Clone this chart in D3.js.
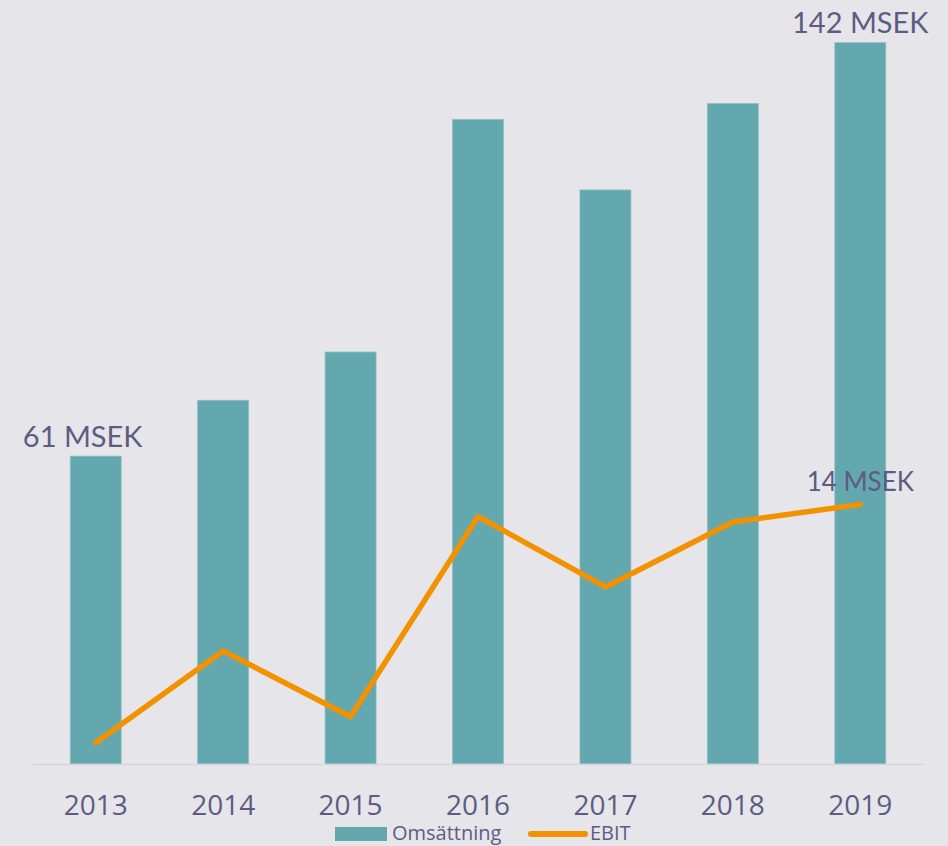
<!DOCTYPE html>
<html>
<head>
<meta charset="utf-8">
<script src="https://cdn.jsdelivr.net/npm/d3@7"></script>
<style>
  html, body { margin: 0; padding: 0; background: #e6e5ea; }
  svg { display: block; }
</style>
</head>
<body>
<div id="chart"></div>
<script>
// Data
const years = ["2013", "2014", "2015", "2016", "2017", "2018", "2019"];
const omsattning = [60.6, 71.6, 81.1, 126.9, 113, 130, 142];   // MSEK
const ebit = [1.15, 6.1, 2.55, 13.35, 9.55, 13.05, 14];         // MSEK
const seriesNames = ["Omsättning", "EBIT"];

const width = 948, height = 846;
const baseY = 764;
const textColor = "#5e5b83";

const svg = d3.select("#chart")
    .append("svg")
    .attr("width", width)
    .attr("height", height);

svg.append("rect")
    .attr("width", width)
    .attr("height", height)
    .attr("fill", "#e6e5ea");

// Scales
const x = d3.scaleBand()
    .domain(years)
    .range([32, 924])
    .paddingInner(0.6)
    .paddingOuter(0.3);

const y = d3.scaleLinear()
    .domain([0, 150])
    .range([baseY, 2]);

// secondary axis for EBIT
const y2 = d3.scaleLinear()
    .domain([0, 41.1])
    .range([baseY, 2]);

// Bars
svg.append("g")
    .selectAll("rect")
    .data(years)
    .join("rect")
    .attr("x", d => x(d))
    .attr("y", (d, i) => y(omsattning[i]))
    .attr("width", x.bandwidth())
    .attr("height", (d, i) => baseY - y(omsattning[i]))
    .attr("fill", "#63a8ae")
    .attr("stroke", "#8dc0c4")
    .attr("stroke-width", 0.8);

// Baseline / x axis
const xAxis = svg.append("g")
    .attr("transform", `translate(0,${baseY})`)
    .call(d3.axisBottom(x).tickSize(0).tickPadding(31));
xAxis.select(".domain")
    .attr("stroke", "#d6d5df")
    .attr("stroke-width", 1.5);
xAxis.selectAll("text")
    .attr("fill", textColor)
    .style("font-family", "'Open Sans', sans-serif")
    .style("font-size", "28px");

// EBIT line
const line = d3.line()
    .x((d, i) => x(years[i]) + x.bandwidth() / 2)
    .y(d => y2(d));

svg.append("path")
    .datum(ebit)
    .attr("d", line)
    .attr("fill", "none")
    .attr("stroke", "#f39200")
    .attr("stroke-width", 5.5)
    .attr("stroke-linejoin", "round")
    .attr("stroke-linecap", "round");

// Data labels
const last = years.length - 1;
const labelFont = "Lato, 'Open Sans', sans-serif";

svg.append("text")
    .attr("x", x(years[0]) + x.bandwidth() / 2 - 13)
    .attr("y", y(omsattning[0]) - 9)
    .attr("text-anchor", "middle")
    .attr("fill", textColor)
    .style("font-family", labelFont)
    .style("font-size", "29px")
    .text(Math.round(omsattning[0]) + " MSEK");

svg.append("text")
    .attr("x", x(years[last]) + x.bandwidth() / 2)
    .attr("y", y(omsattning[last]) - 10)
    .attr("text-anchor", "middle")
    .attr("fill", textColor)
    .style("font-family", labelFont)
    .style("font-size", "29px")
    .text(Math.round(omsattning[last]) + " MSEK");

svg.append("text")
    .attr("x", x(years[last]) + x.bandwidth() / 2)
    .attr("y", y2(ebit[last]) - 13)
    .attr("text-anchor", "middle")
    .attr("fill", textColor)
    .style("font-family", labelFont)
    .style("font-size", "26px")
    .text(Math.round(ebit[last]) + " MSEK");

// Legend
const legend = svg.append("g")
    .style("font-family", "'Open Sans', sans-serif")
    .style("font-size", "20px");

legend.append("rect")
    .attr("x", 335)
    .attr("y", 827)
    .attr("width", 52)
    .attr("height", 14)
    .attr("fill", "#63a8ae");
legend.append("text")
    .attr("x", 392)
    .attr("y", 840)
    .attr("fill", textColor)
    .text(seriesNames[0]);

legend.append("line")
    .attr("x1", 531)
    .attr("x2", 585)
    .attr("y1", 834)
    .attr("y2", 834)
    .attr("stroke", "#f39200")
    .attr("stroke-width", 6)
    .attr("stroke-linecap", "round");
legend.append("text")
    .attr("x", 590)
    .attr("y", 840)
    .attr("fill", textColor)
    .text(seriesNames[1]);
</script>
</body>
</html>
